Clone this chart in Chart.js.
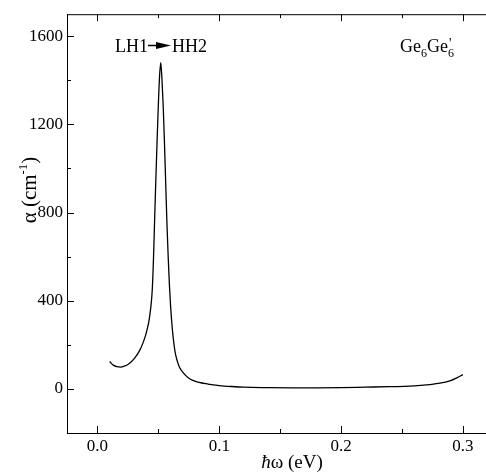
<!DOCTYPE html>
<html>
<head>
<meta charset="utf-8">
<script src="https://cdn.jsdelivr.net/npm/chart.js@4"></script>
<style>
  html, body { margin: 0; padding: 0; background: #fff; }
  #absChart { display: block; }
</style>
</head>
<body>
<canvas id="absChart" width="486" height="475"></canvas>
<script>
// photon energy (eV) and absorption coefficient (cm^-1)
const energy = [0.010, 0.013, 0.016, 0.019, 0.022, 0.025, 0.028, 0.031, 0.034, 0.036,
  0.038, 0.040, 0.041, 0.042, 0.043, 0.044, 0.0445, 0.045, 0.0455, 0.046, 0.0465,
  0.047, 0.048, 0.049, 0.050, 0.051, 0.052,
  0.053, 0.054, 0.055, 0.056, 0.057, 0.058, 0.059, 0.060, 0.0615, 0.063, 0.064, 0.065,
  0.066, 0.067, 0.068, 0.070, 0.073, 0.076, 0.080, 0.085, 0.091, 0.095, 0.100, 0.110, 0.120,
  0.140, 0.160, 0.180, 0.200, 0.220, 0.240, 0.260, 0.270, 0.280, 0.290, 0.295, 0.300];
const alpha = [124, 108, 101, 99, 103, 111, 124, 143, 168, 190,
  218, 252, 275, 300, 335, 380, 410, 450, 510, 590, 680,
  780, 960, 1130, 1290, 1420, 1480,
  1400, 1280, 1120, 940, 760, 610, 480, 380, 270, 195, 160, 137,
  118, 103, 92, 76, 58, 45, 35, 28, 22, 18, 15, 11, 8,
  6, 5, 5, 6, 8, 10, 14, 18, 25, 38, 50, 65];

const xMajor = [0, 0.1, 0.2, 0.3];
const xMinor = [0.05, 0.15, 0.25];
const yMajor = [0, 400, 800, 1200, 1600];
const yMinor = [-200, 200, 600, 1000, 1400];

const serif = '"Liberation Serif", "Times New Roman", serif';

// inward ticks, top border and the text labels
const decorations = {
  id: 'decorations',
  afterDraw(chart) {
    const ctx = chart.ctx;
    const area = chart.chartArea;
    const xs = chart.scales.x, ys = chart.scales.y;
    ctx.save();
    ctx.strokeStyle = '#000';
    ctx.lineWidth = 1;
    ctx.beginPath();
    ctx.moveTo(area.left, area.top + 0.5);
    ctx.lineTo(area.right, area.top + 0.5);
    xMajor.concat(xMinor).forEach(v => {
      const len = xMajor.includes(v) ? 7 : 4;
      const px = Math.round(xs.getPixelForValue(v)) + 0.5;
      ctx.moveTo(px, area.bottom); ctx.lineTo(px, area.bottom - len);
      ctx.moveTo(px, area.top); ctx.lineTo(px, area.top + len);
    });
    yMajor.concat(yMinor).forEach(v => {
      const len = yMajor.includes(v) ? 7 : 4;
      const py = Math.round(ys.getPixelForValue(v)) + 0.5;
      ctx.moveTo(area.left, py); ctx.lineTo(area.left + len, py);
    });
    ctx.stroke();

    ctx.fillStyle = '#000';
    ctx.textBaseline = 'alphabetic';
    ctx.textAlign = 'left';

    // LH1 -> HH2
    ctx.font = '18px ' + serif;
    ctx.fillText('LH1', 115, 52);
    ctx.fillText('HH2', 172, 52);
    ctx.lineWidth = 1.5;
    ctx.beginPath();
    ctx.moveTo(148, 45.5); ctx.lineTo(158, 45.5);
    ctx.stroke();
    ctx.beginPath();
    ctx.moveTo(156, 42); ctx.lineTo(171, 45.5); ctx.lineTo(156, 49);
    ctx.closePath();
    ctx.fill();

    // Ge6Ge'6
    let x = 400;
    ctx.font = '18px ' + serif;
    ctx.fillText('Ge', x, 52); x += ctx.measureText('Ge').width;
    ctx.font = '12px ' + serif;
    ctx.fillText('6', x, 57); x += ctx.measureText('6').width;
    ctx.font = '18px ' + serif;
    ctx.fillText('Ge', x, 52); x += ctx.measureText('Ge').width;
    ctx.font = '14px ' + serif;
    ctx.fillText("'", x + 1, 48);
    ctx.font = '12px ' + serif;
    ctx.fillText('6', x, 57);

    // x title
    ctx.font = 'italic 19px ' + serif;
    const hb = '\u0127';
    const wh = ctx.measureText(hb).width;
    ctx.font = '19px ' + serif;
    const rest = '\u03c9 (eV)';
    const wr = ctx.measureText(rest).width;
    let xt = 292 - (wh + wr) / 2;
    ctx.font = 'italic 19px ' + serif;
    ctx.fillText(hb, xt, 468);
    ctx.font = '19px ' + serif;
    ctx.fillText(rest, xt + wh, 468);

    // y title, rotated
    ctx.translate(36, 190);
    ctx.rotate(-Math.PI / 2);
    const p1 = '\u03b1 (cm', p2 = '-1', p3 = ')';
    ctx.font = '21px ' + serif;
    const w1 = ctx.measureText(p1).width, w3 = ctx.measureText(p3).width;
    ctx.font = '13px ' + serif;
    const w2 = ctx.measureText(p2).width;
    let tx = -(w1 + w2 + w3) / 2;
    ctx.font = '21px ' + serif;
    ctx.fillText(p1, tx, 0); tx += w1;
    ctx.font = '13px ' + serif;
    ctx.fillText(p2, tx, -9); tx += w2;
    ctx.font = '21px ' + serif;
    ctx.fillText(p3, tx, 0);
    ctx.restore();
  }
};

const absChart = new Chart(document.getElementById('absChart'), {
  type: 'line',
  data: {
    datasets: [{
      data: energy.map((e, i) => ({ x: e, y: alpha[i] })),
      borderColor: '#000',
      borderWidth: 1.3,
      pointRadius: 0,
      fill: false,
      cubicInterpolationMode: 'monotone'
    }]
  },
  options: {
    responsive: false,
    animation: false,
    devicePixelRatio: 1,
    layout: { padding: { top: 6, right: 0, left: 0, bottom: 0 } },
    plugins: { legend: { display: false }, tooltip: { enabled: false } },
    scales: {
      x: {
        type: 'linear',
        min: -0.025,
        max: 0.319,
        afterBuildTicks: s => { s.ticks = xMajor.map(v => ({ value: v })); },
        afterFit: s => { s.height = 42; },
        grid: { display: false, drawTicks: false },
        border: { display: true, color: '#000', width: 1 },
        ticks: {
          color: '#000',
          font: { family: serif, size: 17 },
          padding: 3,
          maxRotation: 0,
          callback: v => v.toFixed(1)
        }
      },
      y: {
        min: -200,
        max: 1700,
        afterBuildTicks: s => { s.ticks = yMajor.map(v => ({ value: v })); },
        afterFit: s => { s.width = 67; },
        grid: { display: false, drawTicks: false },
        border: { display: true, color: '#000', width: 1 },
        ticks: {
          color: '#000',
          font: { family: serif, size: 17 },
          padding: 4,
          callback: v => String(v)
        }
      }
    }
  },
  plugins: [decorations]
});
</script>
</body>
</html>
